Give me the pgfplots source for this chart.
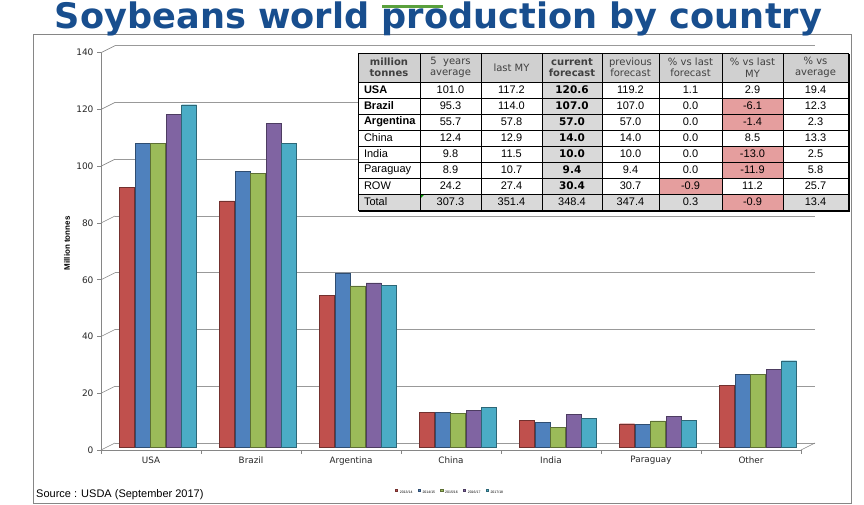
\documentclass[border=0pt]{standalone}
\usepackage{fontspec}
\usepackage{pgfplots}
\pgfplotsset{compat=1.18}
\setmainfont{DejaVu Sans}
\newfontfamily\arial{Liberation Sans}
\newfontfamily\verd{DejaVu Sans}
\definecolor{cRed}{RGB}{192,80,77}
\definecolor{cBlue}{RGB}{79,129,189}
\definecolor{cGreen}{RGB}{155,187,89}
\definecolor{cPurple}{RGB}{128,100,162}
\definecolor{cCyan}{RGB}{75,172,198}
\definecolor{titleblue}{RGB}{24,78,142}
\definecolor{hdrgray}{RGB}{208,208,208}
\definecolor{cellgray}{RGB}{217,217,217}
\definecolor{pinkcell}{RGB}{229,158,158}
\definecolor{hdrtext}{RGB}{64,64,64}
\definecolor{axgray}{RGB}{134,134,134}
\newcommand\tbl{\arial\fontsize{11}{13}\selectfont}
\newcommand\cf{\verd\bfseries\fontsize{10.5}{12}\selectfont}
\newcommand\hdr{\verd\fontsize{10}{11.5}\selectfont}
\newcommand\trow[9]{%
  \node[anchor=west,font=\tbl] at (360.5,#1) {#2};
  \node[font=\tbl] at (450.5,#1) {#3};
  \node[font=\tbl] at (511.5,#1) {#4};
  \node[font=\tbl] at (572,#1) {#5};
  \node[font=\tbl] at (630.5,#1) {#6};
  \node[font=\tbl] at (690.5,#1) {#7};
  \node[font=\tbl] at (752.5,#1) {#8};
  \node[font=\tbl] at (815.5,#1) {#9};
}
\begin{document}
\begin{tikzpicture}
\path[use as bounding box] (0pt,0pt) rectangle (864pt,505pt);
\draw[axgray, line width=0.8pt] (33pt,2pt) rectangle (851pt,471pt);
\begin{axis}[
  at={(101pt,55pt)}, anchor=south west, scale only axis,
  width=700pt, height=397.3pt,
  xmin=-0.5, xmax=6.5, ymin=0, ymax=140,
  clip=false,
  axis x line*=bottom, axis y line*=left,
  axis line style={draw=axgray, line width=0.6pt, -},
  ytick={0,20,...,140},
  ymajorgrids,
  major grid style={draw=gray!80, line width=0.6pt, xshift=14pt, yshift=7pt},
  xtick={-0.5,0.5,...,6.5}, xticklabels={},
  extra x ticks={0,1,2,3,4,5,6},
  extra x tick labels={USA,Brazil,Argentina,China,India,Paraguay,Other},
  extra x tick style={major tick length=0pt, grid=none},
  tick align=outside, major tick length=4pt,
  tick style={draw=axgray, line width=0.6pt},
  /pgf/number format/assume math mode=true,
  yticklabel style={font=\verd\fontsize{9}{10}\selectfont, text=black!85},
  xticklabel style={font=\verd\fontsize{8.8}{10}\selectfont, text=black!85, yshift=-3pt},
  every axis y label/.style={at={(axis description cs:-0.0486,0.52)}, rotate=90, anchor=center},
  ylabel={\arial\bfseries\fontsize{8}{9}\selectfont Million tonnes},
  ybar=0.5pt, bar width=15pt,
  legend style={at={(axis description cs:0.4986,-0.108)}, anchor=center, draw=none, fill=none,
    legend columns=-1, font=\arial\fontsize{3.5}{4}\selectfont,
    /tikz/every even column/.append style={column sep=3pt}},
  legend image code/.code={\fill[#1] (0pt,-1.3pt) rectangle (2.6pt,1.3pt);},
]
\addplot[draw=cRed!60!black, line width=0.4pt, fill=cRed, xshift=7pt, yshift=3pt]
 coordinates {(0,91.4) (1,86.7) (2,53.4) (3,12.2) (4,9.5) (5,8.2) (6,21.7)};
\addplot[draw=cBlue!60!black, line width=0.4pt, fill=cBlue, xshift=7pt, yshift=3pt]
 coordinates {(0,106.9) (1,97.2) (2,61.4) (3,12.2) (4,8.7) (5,8.1) (6,25.6)};
\addplot[draw=cGreen!60!black, line width=0.4pt, fill=cGreen, xshift=7pt, yshift=3pt]
 coordinates {(0,106.9) (1,96.5) (2,56.8) (3,11.8) (4,6.9) (5,9.2) (6,25.7)};
\addplot[draw=cPurple!60!black, line width=0.4pt, fill=cPurple, xshift=7pt, yshift=3pt]
 coordinates {(0,117.2) (1,114.0) (2,57.8) (3,12.9) (4,11.5) (5,10.7) (6,27.4)};
\addplot[draw=cCyan!60!black, line width=0.4pt, fill=cCyan, xshift=7pt, yshift=3pt]
 coordinates {(0,120.6) (1,107.0) (2,57.0) (3,14.0) (4,10.0) (5,9.4) (6,30.4)};
\legend{2013/14,2014/15,2015/16,2016/17,2017/18}
\pgfplotsinvokeforeach{0,20,40,60,80,100,120,140}{\draw[axgray, line width=0.6pt] (axis cs:-0.5,#1) -- ++(14pt,7pt);}
\draw[axgray, line width=0.6pt] (axis cs:6.5,0) -- ++(14pt,7pt);
\end{axis}
\begin{scope}[x=1pt,y=1pt]
% title
\node[anchor=base, text=titleblue, font=\verd\bfseries\fontsize{35}{40}\selectfont, inner sep=0pt] at (438.5,476.4)
  {\resizebox{767pt}{!}{Soybeans world production by country}};
\draw[color={rgb,255:red,90;green,160;blue,60}, line width=3pt] (382,498.4) -- (443,498.4);
% source
\node[anchor=base west, font=\arial\fontsize{11}{13}\selectfont, inner sep=0pt] at (36,7.3) {Source : USDA (September 2017)};
% table
\fill[white] (358,295) rectangle (848,452);
\fill[hdrgray] (358,423) rectangle (848,452);
\fill[cellgray] (542,295) rectangle (602,423);
\fill[cellgray] (358,295) rectangle (848,311);
\fill[pinkcell] (722,391) rectangle (783,407);
\fill[pinkcell] (722,375) rectangle (783,391);
\fill[pinkcell] (722,343) rectangle (783,359);
\fill[pinkcell] (722,327) rectangle (783,343);
\fill[pinkcell] (659,311) rectangle (722,327);
\fill[pinkcell] (722,295) rectangle (783,311);
\fill[green!60!black] (420.5,310.5) -- (424.5,310.5) -- (420.5,306.5) -- cycle;
\foreach \xx in {358,420,481,542,602,659,722,783,848} \draw[black, line width=0.5pt] (\xx,295) -- (\xx,452);
\foreach \yy in {295,311,327,343,359,375,391,407,423,452} \draw[black, line width=0.5pt] (358,\yy) -- (848,\yy);
\draw[black, line width=1.5pt] (849,294) -- (849,451);
\draw[black, line width=1.5pt] (359,294) -- (849.7,294);
% header
\node[align=center, font=\hdr\bfseries, text=hdrtext, inner sep=0pt] at (389,437.5) {million\\tonnes};
\node[align=center, font=\hdr, text=hdrtext, inner sep=0pt] at (450.5,437.5) {5~~years\\average};
\node[align=center, font=\hdr, text=hdrtext, inner sep=0pt] at (511.5,437.5) {last MY};
\node[align=center, font=\hdr\bfseries, text=hdrtext, inner sep=0pt] at (572,437.5) {current\\forecast};
\node[align=center, font=\hdr, text=hdrtext, inner sep=0pt] at (630.5,437.5) {previous\\forecast};
\node[align=center, font=\hdr, text=hdrtext, inner sep=0pt] at (690.5,437.5) {\% vs last\\forecast};
\node[align=center, font=\hdr, text=hdrtext, inner sep=0pt] at (752.5,437.5) {\% vs last\\MY};
\node[align=center, font=\hdr, text=hdrtext, inner sep=0pt] at (815.5,437.5) {\% vs\\average};
% rows
\trow{415}{\bfseries USA}{101.0}{117.2}{\cf 120.6}{119.2}{1.1}{2.9}{19.4}
\trow{399}{\bfseries Brazil}{95.3}{114.0}{\cf 107.0}{107.0}{0.0}{-6.1}{12.3}
\trow{383}{\bfseries Argentina}{55.7}{57.8}{\cf 57.0}{57.0}{0.0}{-1.4}{2.3}
\trow{367}{China}{12.4}{12.9}{\cf 14.0}{14.0}{0.0}{8.5}{13.3}
\trow{351}{India}{9.8}{11.5}{\cf 10.0}{10.0}{0.0}{-13.0}{2.5}
\trow{335}{Paraguay}{8.9}{10.7}{\cf 9.4}{9.4}{0.0}{-11.9}{5.8}
\trow{319}{ROW}{24.2}{27.4}{\cf 30.4}{30.7}{-0.9}{11.2}{25.7}
\trow{303}{Total}{307.3}{351.4}{348.4}{347.4}{0.3}{-0.9}{13.4}
\end{scope}
\end{tikzpicture}
\end{document}
